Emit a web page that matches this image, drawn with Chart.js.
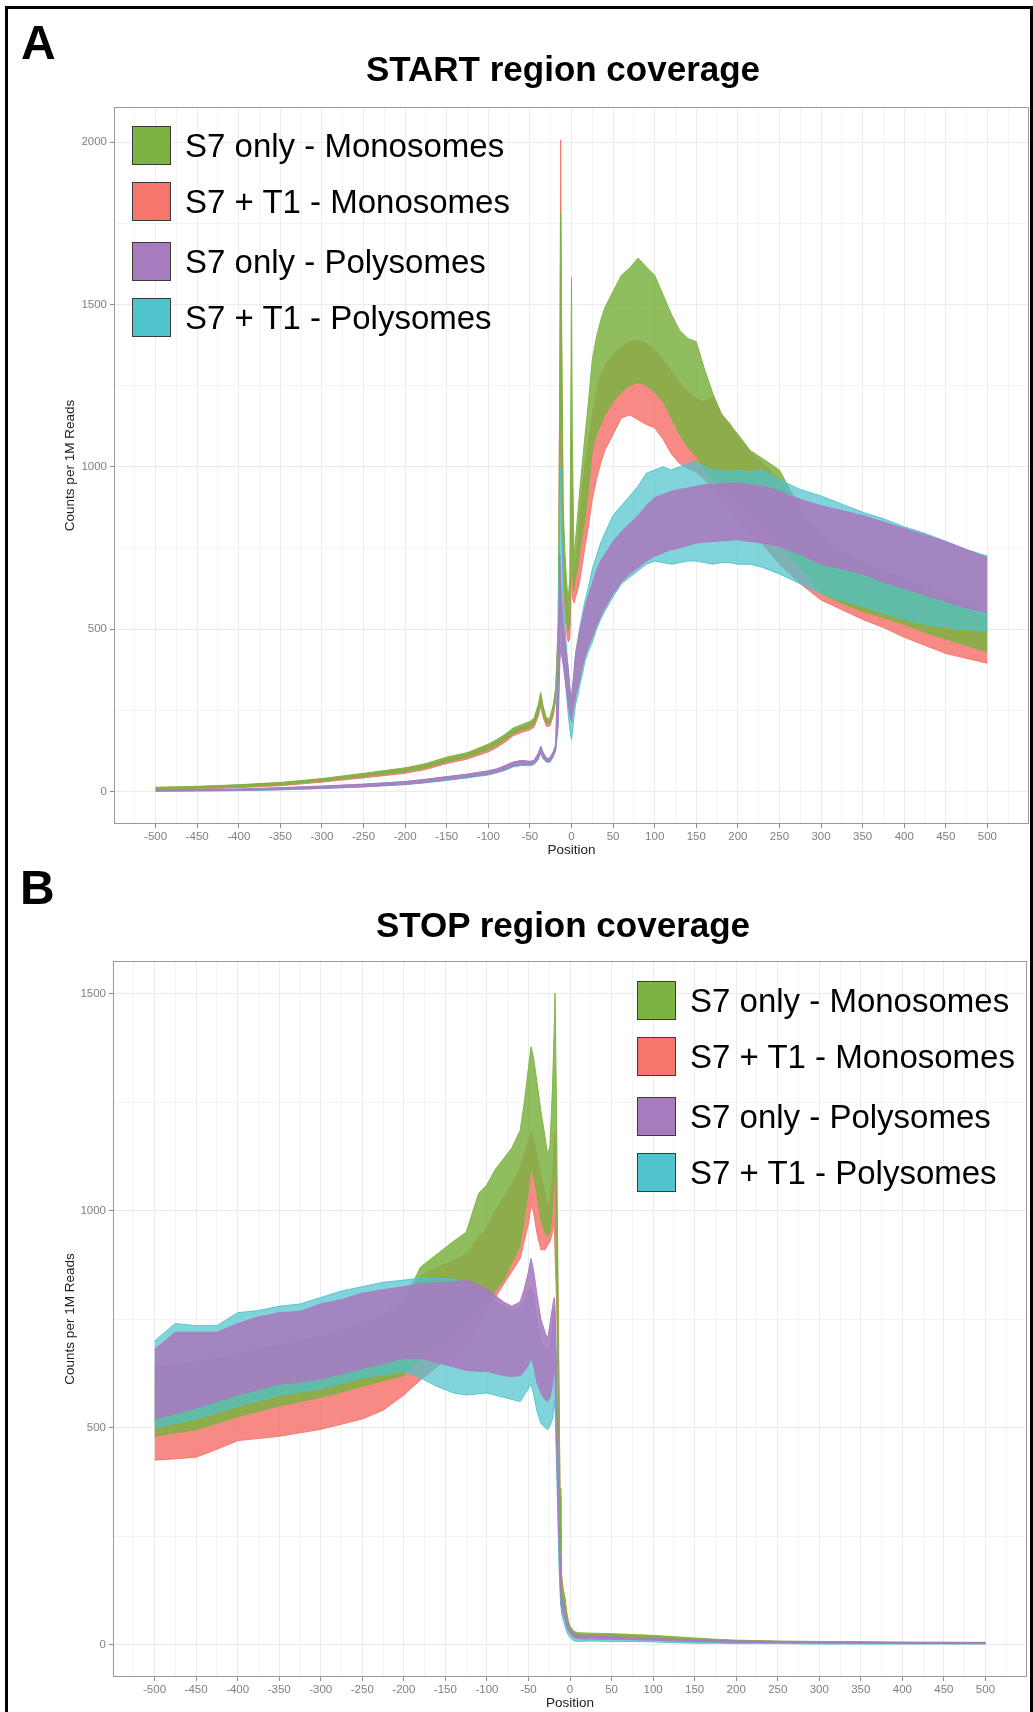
<!DOCTYPE html>
<html>
<head>
<meta charset="utf-8">
<title>START / STOP region coverage</title>
<script src="https://cdn.jsdelivr.net/npm/chart.js@4.4.1/dist/chart.umd.min.js"></script>
<style>
  body { margin: 0; background: #fff; }
  #page { position: relative; width: 1033px; height: 1712px; overflow: hidden; font-family: "Liberation Sans", Arial, Helvetica, sans-serif; }
  #frame { position: absolute; left: 5px; top: 6px; width: 1028px; height: 1720px; border: 3px solid #000; box-sizing: border-box; }
  canvas { position: absolute; left: 0; }
  #chartStart { top: 0; }
  #chartStop { top: 860px; }
  .letter { position: absolute; font-weight: bold; font-size: 48px; line-height: 48px; color: #000; }
  .title { position: absolute; left: 563px; transform: translateX(-50%); font-weight: bold; font-size: 35px; line-height: 35px; white-space: nowrap; color: #000; }
  .legend { position: absolute; }
  .legend .row { position: absolute; left: 0; height: 39px; display: flex; align-items: center; white-space: nowrap; }
  .legend .key { width: 39px; height: 39px; box-sizing: border-box; border: 1px solid #3a3a3a; margin-right: 14px; }
  .legend .txt { font-size: 33px; line-height: 39px; color: #000; }
</style>
</head>
<body>
<div id="page">
  <canvas id="chartStart" width="1033" height="860"></canvas>
  <canvas id="chartStop" width="1033" height="852"></canvas>
  <div id="frame"></div>
  <div class="letter" style="left:21px; top:19px">A</div>
  <div class="title" style="top:51px">START region coverage</div>
  <div class="letter" style="left:20px; top:864px">B</div>
  <div class="title" style="top:907px">STOP region coverage</div>
  <div class="legend" id="legendStart" style="left:132px; top:126px"></div>
  <div class="legend" id="legendStop" style="left:637px; top:981px"></div>
</div>
<script>
// series, in legend order
const seriesNames = ['S7 only - Monosomes', 'S7 + T1 - Monosomes', 'S7 only - Polysomes', 'S7 + T1 - Polysomes'];

// axis ticks
const xTickLabels = [-500, -450, -400, -350, -300, -250, -200, -150, -100, -50, 0, 50, 100, 150, 200, 250, 300, 350, 400, 450, 500];
const xMinorTicks = [-525, -475, -425, -375, -325, -275, -225, -175, -125, -75, -25, 25, 75, 125, 175, 225, 275, 325, 375, 425, 475, 525];
const startYTickLabels = [0, 500, 1000, 1500, 2000];
const startYMinorTicks = [250, 750, 1250, 1750];
const stopYTickLabels = [0, 500, 1000, 1500];
const stopYMinorTicks = [250, 750, 1250];

// START region: positions and upper / lower envelope of each trace (counts per 1M reads)
const startPositions = [
  -500, -450, -400, -350, -300, -250, -200, -175, -150, -125,
  -100, -90, -80, -70, -60, -50, -45, -40, -37, -34,
  -30, -26, -22, -19, -16, -14, -13, -12, -10, -8,
  -6, -4, -2, 0, 1, 3, 5, 8, 10, 13,
  16, 20, 25, 30, 35, 40, 50, 60, 70, 80,
  90, 100, 110, 120, 130, 140, 150, 160, 170, 180,
  190, 200, 215, 230, 250, 275, 300, 325, 350, 375,
  400, 425, 450, 475, 500];

const startS7MonoHigh = [
  13, 16, 21, 28, 40, 56, 73, 86, 106, 120,
  146, 160, 176, 196, 206, 216, 226, 268, 305, 262,
  226, 226, 266, 320, 520, 1250, 1781, 1500, 880, 740,
  650, 590, 660, 1585, 1100, 720, 780, 870, 930, 1010,
  1090, 1190, 1330, 1400, 1450, 1490, 1540, 1590, 1612, 1643,
  1615, 1590, 1530, 1470, 1420, 1395, 1385, 1300, 1225, 1165,
  1130, 1100, 1050, 1025, 990, 870, 780, 740, 705, 680,
  655, 630, 600, 575, 545];
const startS7MonoLow = [
  7, 10, 14, 20, 32, 46, 61, 73, 91, 106,
  129, 142, 159, 179, 189, 197, 206, 240, 270, 236,
  210, 210, 240, 290, 420, 900, 1300, 900, 700, 600,
  530, 495, 510, 900, 680, 620, 660, 700, 740, 790,
  840, 920, 1050, 1100, 1130, 1160, 1200, 1230, 1250, 1260,
  1250, 1230, 1200, 1150, 1100, 1060, 1030, 990, 960, 940,
  920, 900, 860, 820, 770, 690, 610, 580, 555, 535,
  515, 490, 470, 450, 430];

const startT1MonoHigh = [
  12, 15, 20, 27, 38, 53, 70, 82, 102, 116,
  142, 155, 172, 190, 200, 210, 220, 262, 298, 255,
  220, 220, 258, 310, 500, 1350, 2007, 1400, 830, 690,
  610, 550, 600, 1100, 850, 660, 710, 790, 850, 930,
  1000, 1070, 1160, 1230, 1280, 1310, 1345, 1370, 1385, 1390,
  1380, 1360, 1330, 1295, 1260, 1230, 1210, 1200, 1215, 1160,
  1135, 1095, 1045, 1010, 960, 860, 765, 725, 690, 665,
  640, 612, 585, 560, 535];
const startT1MonoLow = [
  5, 8, 12, 18, 29, 42, 56, 68, 86, 100,
  122, 135, 152, 172, 182, 190, 198, 232, 262, 228,
  200, 202, 232, 280, 400, 850, 1300, 800, 640, 550,
  490, 460, 470, 680, 600, 580, 600, 625, 650, 700,
  750, 810, 900, 960, 1010, 1050, 1100, 1150, 1160, 1145,
  1130, 1120, 1085, 1040, 1010, 995, 985, 960, 930, 900,
  870, 840, 800, 760, 700, 640, 590, 560, 530, 505,
  475, 450, 425, 410, 395];

const startS7PolyHigh = [
  5, 6, 8, 12, 17, 23, 31, 38, 46, 54,
  64, 70, 80, 91, 96, 93, 96, 118, 140, 120,
  103, 103, 123, 145, 420, 730, 640, 600, 520, 470,
  420, 380, 320, 290, 320, 370, 430, 470, 500, 530,
  565, 600, 640, 680, 710, 730, 770, 800, 825, 850,
  880, 905, 915, 925, 930, 935, 940, 945, 945, 948,
  950, 950, 945, 940, 925, 900, 880, 865, 850, 830,
  810, 790, 770, 745, 720];
const startS7PolyLow = [
  1, 2, 3, 6, 10, 15, 22, 28, 36, 44,
  53, 59, 67, 78, 82, 82, 85, 100, 120, 102,
  92, 92, 108, 128, 200, 400, 440, 420, 390, 350,
  310, 270, 235, 215, 235, 265, 295, 325, 345, 385,
  415, 445, 475, 510, 540, 565, 610, 645, 670, 690,
  710, 725, 735, 745, 750, 758, 765, 768, 770, 772,
  774, 775, 770, 765, 755, 730, 700, 685, 670, 645,
  625, 605, 585, 565, 550];

const startT1PolyHigh = [
  4, 5, 7, 11, 16, 22, 30, 37, 45, 52,
  62, 68, 78, 90, 95, 92, 95, 116, 138, 118,
  101, 101, 121, 143, 460, 900, 1000, 860, 620, 510,
  440, 380, 320, 260, 300, 360, 420, 470, 505, 545,
  585, 625, 685, 725, 765, 795, 850, 880, 910, 940,
  980, 990, 1000, 990, 1000, 1010, 1015, 1000, 990, 990,
  985, 990, 985, 990, 960, 930, 910, 885, 860, 840,
  815, 795, 770, 745, 725];
const startT1PolyLow = [
  1, 2, 3, 5, 9, 14, 21, 27, 34, 42,
  51, 57, 65, 76, 80, 80, 83, 98, 118, 100,
  90, 90, 106, 126, 220, 500, 600, 500, 420, 360,
  300, 240, 190, 160, 180, 230, 270, 300, 330, 360,
  400, 430, 460, 500, 530, 555, 600, 640, 660, 680,
  700, 710, 705, 700, 705, 710, 710, 705, 700, 705,
  705, 700, 700, 690, 670, 640, 610, 590, 570, 550,
  530, 515, 505, 500, 495];

// STOP region
const stopPositions = [
  -500, -475, -450, -425, -400, -375, -350, -325, -300, -275,
  -250, -225, -200, -180, -160, -140, -125, -110, -100, -90,
  -80, -70, -60, -55, -50, -47, -44, -40, -35, -30,
  -27, -24, -21, -19, -18, -16, -15, -14, -13, -12,
  -11, -10, -8, -6, -4, -2, 0, 5, 10, 25,
  50, 75, 100, 125, 150, 175, 200, 250, 300, 350,
  400, 450, 500];

const stopS7MonoHigh = [
  640, 645, 650, 660, 670, 680, 690, 700, 710, 725,
  740, 760, 790, 870, 900, 930, 950, 1040, 1060, 1095,
  1120, 1145, 1185, 1250, 1330, 1378, 1355, 1300, 1230, 1170,
  1130, 1150, 1290, 1420, 1502, 1200, 950, 760, 560, 360,
  230, 160, 125, 110, 75, 55, 42, 30, 27, 26,
  25, 23, 21, 18, 15, 12, 10, 8, 7, 6,
  5, 5, 4];
const stopS7MonoLow = [
  480, 488, 495, 510, 525, 538, 550, 560, 570, 582,
  595, 608, 620, 660, 690, 720, 740, 770, 790, 815,
  840, 880, 920, 980, 1050, 1100, 1080, 1040, 980, 950,
  940, 950, 1000, 1080, 1100, 850, 700, 560, 400, 270,
  180, 120, 95, 80, 58, 42, 34, 22, 20, 20,
  19, 17, 15, 12, 10, 8, 6, 5, 4, 3,
  3, 2, 2];

const stopT1MonoHigh = [
  600, 605, 615, 625, 635, 645, 655, 668, 680, 700,
  720, 745, 775, 850, 870, 885, 900, 940, 960, 1000,
  1030, 1060, 1100, 1130, 1160, 1180, 1170, 1130, 1080, 1040,
  1010, 1020, 1080, 1150, 1180, 1000, 880, 700, 520, 340,
  220, 150, 115, 100, 70, 50, 40, 28, 25, 24,
  23, 21, 19, 16, 13, 11, 9, 7, 6, 5,
  5, 4, 4];
const stopT1MonoLow = [
  425, 428, 432, 450, 470, 475, 480, 488, 496, 508,
  520, 540, 575, 610, 640, 670, 700, 740, 780, 800,
  830, 860, 890, 930, 970, 1010, 1000, 950, 910, 910,
  920, 930, 950, 980, 900, 780, 660, 520, 380, 250,
  170, 110, 85, 72, 52, 38, 30, 18, 16, 16,
  15, 14, 12, 10, 8, 6, 5, 4, 3, 3,
  2, 2, 2];

const stopS7PolyHigh = [
  680, 720, 720, 720, 740, 755, 765, 768, 785, 795,
  810, 818, 825, 832, 834, 836, 840, 830, 820, 805,
  790, 780, 790, 820, 860, 890, 865, 810, 750, 720,
  705, 740, 780, 800, 780, 620, 500, 380, 280, 200,
  150, 110, 90, 75, 55, 42, 34, 24, 20, 19,
  18, 16, 14, 12, 10, 9, 8, 7, 6, 6,
  5, 5, 5];
const stopS7PolyLow = [
  520, 532, 545, 560, 575, 588, 600, 605, 612, 624,
  636, 648, 660, 660, 650, 640, 632, 630, 630, 625,
  620, 618, 620, 630, 645, 660, 645, 605, 580, 565,
  560, 570, 600, 640, 620, 450, 370, 290, 210, 150,
  110, 85, 70, 58, 42, 32, 26, 16, 14, 13,
  12, 11, 10, 8, 7, 6, 5, 4, 4, 3,
  3, 3, 3];

const stopT1PolyHigh = [
  700, 740, 735, 735, 765, 770, 780, 785, 800, 815,
  825, 835, 840, 845, 845, 842, 835, 815, 805, 790,
  780, 770, 775, 790, 810, 820, 800, 745, 700, 680,
  675, 690, 730, 780, 760, 600, 480, 360, 260, 180,
  130, 95, 75, 60, 45, 32, 25, 15, 12, 11,
  12, 11, 10, 8, 6, 5, 5, 4, 4, 3,
  3, 3, 3];
const stopT1PolyLow = [
  500, 510, 520, 535, 550, 562, 575, 582, 590, 602,
  615, 622, 630, 615, 595, 580, 575, 578, 580, 575,
  570, 565, 560, 575, 590, 600, 580, 540, 510, 500,
  495, 505, 520, 560, 540, 400, 320, 240, 170, 120,
  90, 70, 55, 42, 30, 22, 16, 8, 7, 8,
  7, 7, 6, 4, 3, 3, 2, 2, 1, 1,
  1, 1, 1];

// styling
const seriesColors = ['#7db343', '#f6766e', '#a77cbf', '#4fc4cc'];
const fillAlpha = [0.85, 0.85, 0.9, 0.72];
const drawOrder = [2, 3, 0, 1];           // first = drawn on top
const legendRowTops = [0, 56, 116, 172];
const fontFamily = '"Liberation Sans", Arial, Helvetica, sans-serif';

Chart.defaults.font.family = fontFamily;

function rgba(hex, a) {
  const n = parseInt(hex.slice(1), 16);
  return `rgba(${(n >> 16) & 255}, ${(n >> 8) & 255}, ${n & 255}, ${a})`;
}

// ggplot-like grey frame round the panel
const panelBorder = {
  id: 'panelBorder',
  afterDatasetsDraw(chart) {
    const { ctx, chartArea: a } = chart;
    ctx.save();
    ctx.strokeStyle = '#9a9a9a';
    ctx.lineWidth = 1;
    ctx.strokeRect(Math.round(a.left) + 0.5, Math.round(a.top) + 0.5, Math.round(a.width) - 1, Math.round(a.height) - 1);
    ctx.restore();
  }
};

function buildDatasets(pos, highs, lows) {
  const sets = [];
  drawOrder.forEach(k => {
    sets.push({
      label: seriesNames[k],
      data: pos.map((p, i) => ({ x: p, y: highs[k][i] })),
      borderColor: rgba(seriesColors[k], 0.95),
      borderWidth: 1,
      fill: false
    });
    sets.push({
      label: seriesNames[k] + ' (low)',
      data: pos.map((p, i) => ({ x: p, y: lows[k][i] })),
      borderColor: rgba(seriesColors[k], 0.95),
      backgroundColor: rgba(seriesColors[k], fillAlpha[k]),
      borderWidth: 1,
      fill: '-1'
    });
  });
  return sets;
}

function makeChart(id, pos, highs, lows, yMin, yMax, yLabels, yMinor, box) {
  const yTicks = yLabels.concat(yMinor).sort((a, b) => a - b);
  const xTicks = xTickLabels.concat(xMinorTicks).sort((a, b) => a - b);
  const tickFont = { size: 11.5, family: fontFamily };
  const titleFont = { size: 13.5, family: fontFamily };

  return new Chart(document.getElementById(id), {
    type: 'line',
    data: { datasets: buildDatasets(pos, highs, lows) },
    options: {
      responsive: false,
      animation: false,
      devicePixelRatio: 1,
      elements: { point: { radius: 0 }, line: { tension: 0 } },
      layout: { padding: { top: box.top, right: box.right, left: 0, bottom: 0 } },
      plugins: { legend: { display: false }, tooltip: { enabled: false } },
      scales: {
        x: {
          type: 'linear',
          min: -550,
          max: 550,
          afterBuildTicks: s => { s.ticks = xTicks.map(v => ({ value: v })); },
          afterFit: s => { s.height = box.xHeight; },
          ticks: {
            autoSkip: false,
            maxRotation: 0,
            padding: 2,
            color: '#7f7f7f',
            font: tickFont,
            callback: v => xTickLabels.includes(v) ? String(v) : ''
          },
          grid: {
            lineWidth: 1,
            tickLength: 4,
            color: c => xTickLabels.includes(c.tick.value) ? '#ebebeb' : '#f3f3f3',
            tickColor: c => xTickLabels.includes(c.tick.value) ? '#8a8a8a' : 'rgba(0,0,0,0)'
          },
          border: { display: false },
          title: { display: true, text: 'Position', color: '#222', font: titleFont, padding: { top: 0, bottom: box.xTitlePad } }
        },
        y: {
          type: 'linear',
          min: yMin,
          max: yMax,
          afterBuildTicks: s => { s.ticks = yTicks.map(v => ({ value: v })); },
          afterFit: s => { s.width = box.yWidth; },
          ticks: {
            autoSkip: false,
            padding: 3,
            color: '#7f7f7f',
            font: tickFont,
            callback: v => yLabels.includes(v) ? String(v) : ''
          },
          grid: {
            lineWidth: 1,
            tickLength: 4,
            color: c => yLabels.includes(c.tick.value) ? '#ebebeb' : '#f3f3f3',
            tickColor: c => yLabels.includes(c.tick.value) ? '#8a8a8a' : 'rgba(0,0,0,0)'
          },
          border: { display: false },
          title: { display: true, text: 'Counts per 1M Reads', color: '#222', font: titleFont, padding: { top: 62, bottom: 0 } }
        }
      }
    },
    plugins: [panelBorder]
  });
}

function buildLegend(id) {
  const holder = document.getElementById(id);
  seriesNames.forEach((name, k) => {
    const row = document.createElement('div');
    row.className = 'row';
    row.style.top = legendRowTops[k] + 'px';
    const key = document.createElement('div');
    key.className = 'key';
    key.style.background = seriesColors[k];
    const txt = document.createElement('span');
    txt.className = 'txt';
    txt.textContent = name;
    row.appendChild(key);
    row.appendChild(txt);
    holder.appendChild(row);
  });
}

// arrays indexed in legend order
makeChart('chartStart', startPositions,
  [startS7MonoHigh, startT1MonoHigh, startS7PolyHigh, startT1PolyHigh],
  [startS7MonoLow, startT1MonoLow, startS7PolyLow, startT1PolyLow],
  -100, 2108, startYTickLabels, startYMinorTicks,
  { top: 107, right: 4, yWidth: 114, xHeight: 36, xTitlePad: 2 });

makeChart('chartStop', stopPositions,
  [stopS7MonoHigh, stopT1MonoHigh, stopS7PolyHigh, stopT1PolyHigh],
  [stopS7MonoLow, stopT1MonoLow, stopS7PolyLow, stopT1PolyLow],
  -75, 1576, stopYTickLabels, stopYMinorTicks,
  { top: 101, right: 6, yWidth: 113, xHeight: 35, xTitlePad: 1 });

buildLegend('legendStart');
buildLegend('legendStop');
</script>
</body>
</html>
